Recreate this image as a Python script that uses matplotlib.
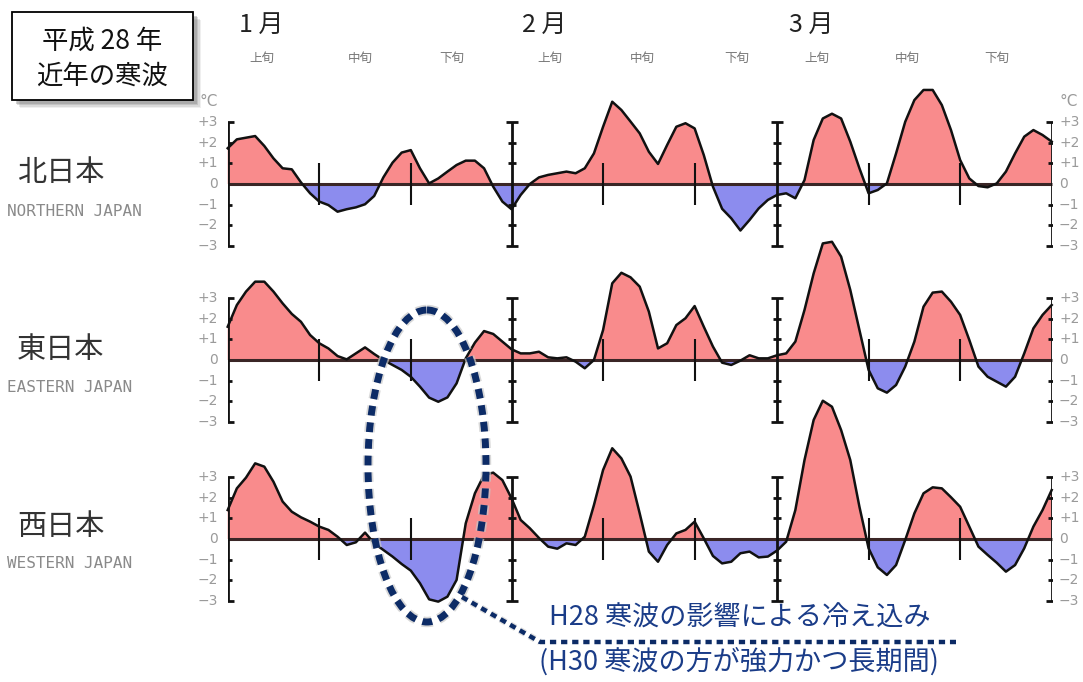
import matplotlib
matplotlib.use('Agg')
import matplotlib.pyplot as plt
from matplotlib.patches import Ellipse, Rectangle
import numpy as np

plt.rcParams['font.family'] = ['Noto Sans CJK JP', 'DejaVu Sans']
plt.rcParams['lines.scale_dashes'] = False

# ---------------- data ----------------
days = np.arange(91)  # Jan 1 .. Mar 31 (2016)

north = [1.73, 2.16, 2.24, 2.32, 1.84, 1.24, 0.76, 0.71, 0.08, -0.45,
         -0.85, -1.02, -1.34, -1.22, -1.13, -0.98, -0.58, 0.32, 1.03, 1.52,
         1.64, 0.76, 0.03, 0.27, 0.60, 0.92, 1.13, 1.13, 0.76, -0.13,
         -0.85, -1.22, -0.53, 0.00, 0.32, 0.44, 0.52, 0.60, 0.52, 0.76,
         1.48, 2.77, 3.98, 3.58, 3.02, 2.45, 1.56, 0.97, 1.89, 2.77,
         2.94, 2.69, 1.40, -0.13, -1.20, -1.66, -2.25, -1.74, -1.18, -0.77,
         -0.53, -0.45, -0.69, 0.19, 2.13, 3.17, 3.40, 3.17, 2.05, 0.76,
         -0.45, -0.29, 0.03, 1.48, 3.01, 4.06, 4.55, 4.55, 3.82, 2.61,
         1.16, 0.27, -0.10, -0.16, 0.03, 0.60, 1.48, 2.29, 2.61, 2.37,
         2.05]

east = [1.61, 2.66, 3.31, 3.79, 3.79, 3.31, 2.74, 2.23, 1.85, 1.21,
        0.81, 0.56, 0.19, 0.03, 0.32, 0.61, 0.29, 0.00, -0.24, -0.48,
        -0.81, -1.29, -1.82, -2.02, -1.81, -1.13, 0.08, 0.84, 1.40, 1.26,
        0.89, 0.52, 0.32, 0.32, 0.40, 0.13, 0.08, 0.13, -0.08, -0.40,
        0.00, 1.45, 3.71, 4.22, 4.00, 3.55, 2.34, 0.56, 0.81, 1.69,
        2.02, 2.61, 1.61, 0.65, -0.13, -0.24, -0.03, 0.23, 0.08, 0.08,
        0.23, 0.32, 0.89, 2.42, 4.19, 5.64, 5.72, 5.00, 3.39, 1.45,
        -0.48, -1.37, -1.58, -1.21, -0.32, 0.89, 2.58, 3.26, 3.31, 2.82,
        2.18, 0.97, -0.32, -0.81, -1.05, -1.29, -0.81, 0.32, 1.53, 2.18,
        2.66]

west = [1.40, 2.45, 2.97, 3.66, 3.50, 2.77, 1.81, 1.32, 1.05, 0.84,
        0.60, 0.44, 0.11, -0.29, -0.16, 0.31, -0.21, -0.53, -0.85, -1.21,
        -1.53, -2.14, -2.92, -3.03, -2.79, -1.98, 0.76, 2.21, 3.10, 3.21,
        2.85, 1.97, 0.92, 0.52, 0.05, -0.37, -0.47, -0.21, -0.29, 0.11,
        1.64, 3.34, 4.39, 3.90, 3.02, 1.24, -0.61, -1.10, -0.29, 0.27,
        0.44, 0.84, 0.03, -0.82, -1.18, -1.10, -0.69, -0.61, -0.89, -0.85,
        -0.56, -0.13, 1.40, 3.82, 5.76, 6.69, 6.40, 5.27, 3.82, 1.56,
        -0.45, -1.37, -1.74, -1.26, -0.05, 1.24, 2.21, 2.50, 2.45, 2.02,
        1.56, 0.60, -0.37, -0.77, -1.15, -1.58, -1.26, -0.45, 0.60, 1.40,
        2.37]

series = [north, east, west]
region_jp = ['北日本', '東日本', '西日本']
region_en = ['NORTHERN JAPAN', 'EASTERN JAPAN', 'WESTERN JAPAN']
month_labels = ['1 月', '2 月', '3 月']
dekad_labels = ['上旬', '中旬', '下旬'] * 3
ytick_vals = [3, 2, 1, 0, -1, -2, -3]
ytick_labels = ['+3', '+2', '+1', '0', '−1', '−2', '−3']
month_bounds = [0, 31, 60, 90]
dekad_marks = [10, 20, 41, 51, 70, 80]
title_lines = ['平成 28 年', '近年の寒波']
note_lines = ['H28 寒波の影響による冷え込み', '(H30 寒波の方が強力かつ長期間)']

# ---------------- style ----------------
W, H = 1083, 682
RED = '#f98b8c'
BLUE = '#8c8cee'
NAVY = '#0c2b66'
TEXTNAVY = '#1a3c88'
GREY = '#9a9a9a'

fig = plt.figure(figsize=(W / 100, H / 100), dpi=100)

zero_px = [184, 360, 539]
ppd = 20.67
ymin, ymax = -4, 7
x0px, x1px = 227.7, 1051.7

for i, (vals, z) in enumerate(zip(series, zero_px)):
    top = z - ymax * ppd
    bottom = z - ymin * ppd
    ax = fig.add_axes([x0px / W, 1 - bottom / H, (x1px - x0px) / W, (bottom - top) / H])
    ax.set_xlim(0, 90)
    ax.set_ylim(ymin, ymax)
    ax.axis('off')
    ax.patch.set_alpha(0)
    v = np.array(vals)
    ax.fill_between(days, 0, v, where=v >= 0, interpolate=True, color=RED, lw=0, clip_on=False)
    ax.fill_between(days, 0, v, where=v <= 0, interpolate=True, color=BLUE, lw=0, clip_on=False)
    ax.hlines(0, 0, 90, color='#3a2626', lw=2.2, clip_on=False, zorder=3)
    for m in month_bounds:
        ax.vlines(m, -3, 3, color='#111111', lw=2.0, zorder=4)
        ax.plot([m, m], [3, -3], ls='none', marker='_', ms=8, mew=2.0, color='#111111', zorder=4)
        ax.plot([m] * 4, [2, 1, -1, -2], ls='none', marker='_', ms=6, mew=2.0, color='#111111', zorder=4)
    ax.vlines(dekad_marks, -1, 1, color='#111111', lw=1.5, zorder=4)
    ax.plot(days, v, color='#111111', lw=1.8, zorder=5, clip_on=False, solid_joinstyle='round')
    for yv, lab in zip(ytick_vals, ytick_labels):
        ax.text(-1.1, yv, lab, ha='right', va='center', fontsize=10, color=GREY, family='DejaVu Sans')
        ax.text(0.8 + 90, yv, lab, ha='left', va='center', fontsize=10, color=GREY, family='DejaVu Sans')
    if i == 0:
        ax.text(-1.1, 4.0, '°C', ha='right', va='center', fontsize=11, color=GREY, family='DejaVu Sans')
        ax.text(90.8, 4.0, '°C', ha='left', va='center', fontsize=11, color=GREY, family='DejaVu Sans')

# ---------------- overlay in pixel coordinates ----------------
ov = fig.add_axes([0, 0, 1, 1])
ov.set_xlim(0, W)
ov.set_ylim(H, 0)
ov.axis('off')
ov.patch.set_alpha(0)

# title box with shadow
for k, a in enumerate([0.12, 0.18, 0.25, 0.35]):
    off = 8 - k * 1.5
    ov.add_patch(Rectangle((12 + off, 12 + off), 181, 88, color='#808080', alpha=a, lw=0))
ov.add_patch(Rectangle((12, 12), 181, 88, facecolor='white', edgecolor='black', lw=1.3))
ov.text(102, 41, title_lines[0], ha='center', va='center', fontsize=19, color='#111111')
ov.text(102, 76, title_lines[1], ha='center', va='center', fontsize=19, color='#111111')

# month / dekad headers
month_px = [261, 544, 811]
for xp, lab in zip(month_px, month_labels):
    ov.text(xp, 25, lab, ha='center', va='center', fontsize=18, color='#222222')
dekad_px = [262, 360, 452, 550, 642, 737, 817, 907, 997]
for xp, lab in zip(dekad_px, dekad_labels):
    ov.text(xp, 58, lab, ha='center', va='center', fontsize=9, color='#777777')

# region labels
for lab_jp, lab_en, yj, ye in zip(region_jp, region_en, [173, 350, 527], [211, 388, 564]):
    ov.text(17, yj, lab_jp, ha='left', va='center', fontsize=21, color='#333333')
    ov.text(7, ye, lab_en, ha='left', va='center', fontsize=11.5, color='#8a8a8a',
            family='DejaVu Sans Mono')

# annotation ellipse with glow
dots = (0, (7.0, 5.0))
ov.add_patch(Ellipse((427, 466), 118, 312, fill=False, ec='#c8c8c8', lw=7.5, alpha=0.7, linestyle=dots))
ov.add_patch(Ellipse((427, 466), 118, 312, fill=False, ec=NAVY, lw=5.0, linestyle=dots))
ov.plot([462, 540], [597, 642], color='#c8c8c8', lw=5, alpha=0.6, ls=(0, (4.5, 3.5)))
ov.plot([462, 540, 956], [597, 642, 642], color=NAVY, lw=3.2, ls=(0, (4.5, 3.5)))

ov.text(740, 618, note_lines[0], ha='center', va='center', fontsize=19.5, color=TEXTNAVY)
ov.text(739, 662, note_lines[1], ha='center', va='center', fontsize=19.5, color=TEXTNAVY)

fig.savefig('out.png', dpi=100)
